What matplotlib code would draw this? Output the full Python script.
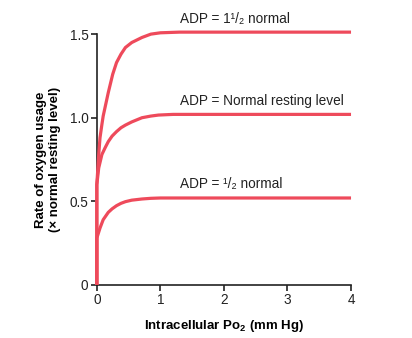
import matplotlib
matplotlib.use("Agg")
import matplotlib.pyplot as plt

plt.rcParams['font.family'] = ['Liberation Sans', 'DejaVu Sans']

# Curve data (Po2 in mm Hg, rate x normal)
x_high = [0, 0.0, 0.03, 0.05, 0.08, 0.1, 0.14, 0.18, 0.25, 0.31, 0.38, 0.45, 0.55, 0.71, 0.85, 1.0, 1.3, 2.0, 3.0, 4.0]
y_high = [0, 0.6, 0.78, 0.88, 0.96, 1.01, 1.08, 1.15, 1.26, 1.33, 1.38, 1.42, 1.45, 1.48, 1.50, 1.508, 1.512, 1.512, 1.512, 1.512]

x_norm = [0, 0.0, 0.03, 0.08, 0.13, 0.18, 0.24, 0.31, 0.38, 0.45, 0.55, 0.71, 0.85, 0.97, 1.2, 2.0, 3.0, 4.0]
y_norm = [0, 0.6, 0.70, 0.78, 0.82, 0.857, 0.89, 0.917, 0.94, 0.956, 0.975, 1.0, 1.01, 1.016, 1.02, 1.02, 1.02, 1.02]

x_half = [0, 0.0, 0.05, 0.1, 0.18, 0.24, 0.31, 0.38, 0.45, 0.55, 0.71, 0.85, 1.0, 2.0, 3.0, 4.0]
y_half = [0, 0.28, 0.34, 0.39, 0.434, 0.455, 0.474, 0.488, 0.498, 0.507, 0.514, 0.518, 0.52, 0.52, 0.52, 0.52]

labels = ["ADP = 1\u00b9/\u2082 normal", "ADP = Normal resting level", "ADP = \u00b9/\u2082 normal"]
label_y = [1.52, 1.03, 0.53]
label_x = 1.31

x_ticks = [0, 1, 2, 3, 4]
y_ticks = [0, 0.5, 1.0, 1.5]
y_ticklabels = ["0", "0.5", "1.0", "1.5"]

color = '#ee4a5b'

fig = plt.figure(figsize=(4.12, 3.38), dpi=100)
ax = fig.add_axes([0.235, 0.157, 0.617, 0.742])

for xs, ys in [(x_high, y_high), (x_norm, y_norm), (x_half, y_half)]:
    ax.plot(xs, ys, color=color, lw=2.3, clip_on=False, solid_capstyle='butt',
            solid_joinstyle='round', zorder=3)

for t, yy in zip(labels, label_y):
    ax.text(label_x, yy + 0.03, t, fontsize=9.8, ha='left', va='bottom', color='#222222')

ax.set_xlim(0, 4)
ax.set_ylim(0, 1.5)
ax.set_xticks(x_ticks)
ax.set_yticks(y_ticks)
ax.set_yticklabels(y_ticklabels)
for s in ['top', 'right']:
    ax.spines[s].set_visible(False)
for s in ['left', 'bottom']:
    ax.spines[s].set_linewidth(1.2)
    ax.spines[s].set_color('#222222')
ax.tick_params(direction='out', length=4, width=1.2, labelsize=9.8, colors='#222222', pad=2)

ax.set_xlabel("Intracellular Po$_\\mathregular{2}$ (mm Hg)", fontsize=9.5, fontweight='bold', labelpad=8)
ax.set_ylabel("Rate of oxygen usage\n(\u00d7 normal resting level)", fontsize=9.5, fontweight='bold', labelpad=6, linespacing=1.3)

fig.savefig("out.png", dpi=100)
